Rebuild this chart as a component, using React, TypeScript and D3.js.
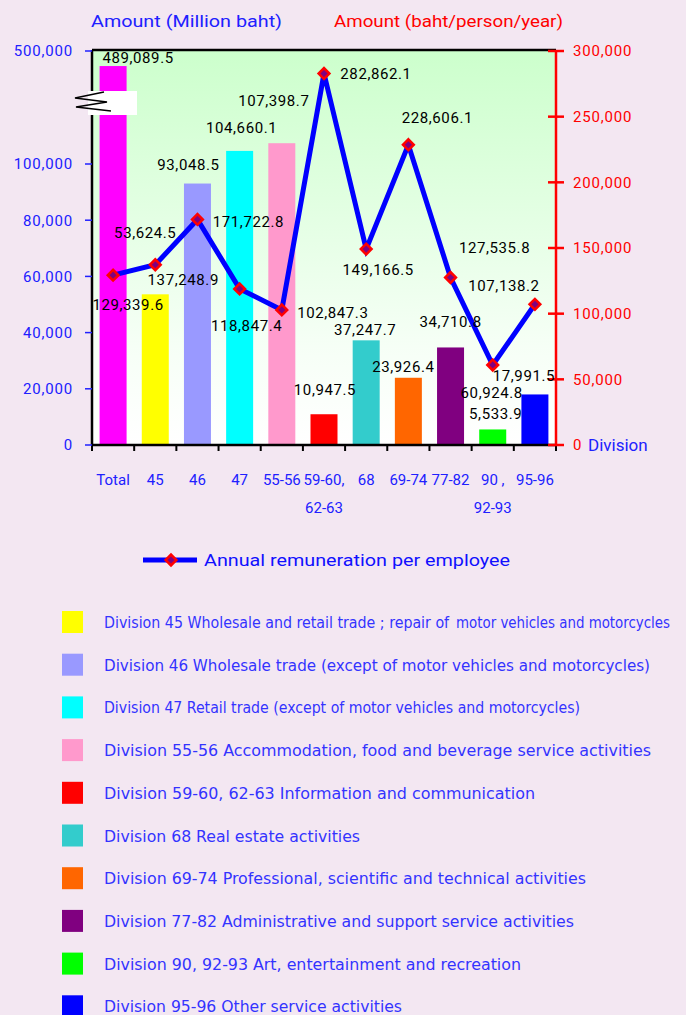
import React from "react";
import * as d3 from "d3";

const categories = ["Total", "45", "46", "47", "55-56", "59-60, 62-63", "68", "69-74", "77-82", "90, 92-93", "95-96"];
const xLabelLine1 = ["Total", "45", "46", "47", "55-56", "59-60,", "68", "69-74", "77-82", "90 ,", "95-96"];
const xLabelLine2 = ["", "", "", "", "", "62-63", "", "", "", "92-93", ""];
const amounts = [489089.5, 53624.5, 93048.5, 104660.1, 107398.7, 10947.5, 37247.7, 23926.4, 34710.8, 5533.9, 17991.5];
const remuneration = [129339.6, 137248.9, 171722.8, 118847.4, 102847.3, 282862.1, 149166.5, 228606.1, 127535.8, 60924.8, 107138.2];
const barColors = ["#FF00FF", "#FFFF00", "#9999FF", "#00FFFF", "#FF99CC", "#FF0000", "#33CCCC", "#FF6600", "#800080", "#00FF00", "#0000FF"];
const leftTicks = [0, 20000, 40000, 60000, 80000, 100000, 500000];
const rightTicks = [0, 50000, 100000, 150000, 200000, 250000, 300000];
const legendLabels = [
  "Division 45 Wholesale and retail trade ; repair of motor vehicles and  motorcycles",
  "Division 46 Wholesale trade (except of motor vehicles and motorcycles)",
  "Division 47 Retail trade (except of motor vehicles and motorcycles)",
  "Division 55-56 Accommodation, food and beverage service activities",
  "Division 59-60, 62-63 Information and communication",
  "Division 68 Real estate activities",
  "Division 69-74 Professional, scientific and technical activities",
  "Division 77-82 Administrative and support service activities",
  "Division 90, 92-93 Art, entertainment and recreation",
  "Division 95-96 Other service activities",
];
const legendWidths = [566, 546, 476, 547, 431, 256, 482, 470, 417, 298];
// label offsets relative to bar top / line point (layout)
const barLabelOffsets = [[25, -3], [-10, -56], [-9, -14], [2, -18], [-8, -37], [1, -19], [-1, -5], [-5, -6], [0, -20], [3, -10], [-11, -13]];
const lineLabelOffsets = [[15, 35], [28, 20], [51, 7.5], [7, 42], [51, 8], [52, 5.5], [12, 26], [29, -22], [44, -24.5], [-1, 33], [-31, -13]];

const W = 686, H = 1015;
const L = 92, R = 556, T = 50, B = 445;
const fmt = d3.format(",.1f");
const fmtTick = d3.format(",");
const FONT = "Roboto, 'Noto Sans', sans-serif";
const NARROW = "'Liberation Sans Narrow', 'DejaVu Sans Condensed', Roboto, sans-serif";
const AXIS_BLUE = "#2020FF";
const LEG_BLUE = "#3333FF";

// split a long legend label into two runs at a word boundary near its middle
function splitRuns(label: string, width: number): { text: string; offset: number; len: number }[] {
  if (width < 555) return [{ text: label, offset: 0, len: width }];
  const mid = Math.floor(label.length * 0.6);
  const cut = label.indexOf(" ", mid);
  const a = label.slice(0, cut);
  const b = label.slice(cut + 1);
  const perChar = width / label.length;
  return [
    { text: a, offset: 0, len: a.length * perChar },
    { text: b, offset: (cut + 1) * perChar, len: width - (cut + 1) * perChar },
  ];
}

export default function App() {
  const x = d3.scaleBand<string>().domain(categories).range([L, R]).padding(0);
  const bw = x.bandwidth();
  const barW = bw * 0.64;
  const lowerPx = (B - 164) / 100000;
  const yL = d3.scaleLinear().domain([0, 112000, 450000, 500000]).range([B, B - 112000 * lowerPx, 120, 51]);
  const yR = d3.scaleLinear().domain([0, 300000]).range([B, T + 1]);
  const cx = (c: string) => (x(c) as number) + bw / 2;
  const line = d3.line<number>().x((_, i) => cx(categories[i])).y((d) => yR(d));
  const diamond = d3.symbol().type(d3.symbolSquare).size(58)();
  const boundaries = categories.map((c) => x(c) as number).concat([R]);

  return (
    <svg width={W} height={H} style={{ position: "absolute", left: 0, top: 0 }} fontFamily={FONT}>
      <defs>
        <linearGradient id="plotbg" x1="0" y1="0" x2="0" y2="1">
          <stop offset="0" stopColor="#CCFFCC" />
          <stop offset="0.75" stopColor="#F6FFF6" />
          <stop offset="1" stopColor="#FFFFFF" />
        </linearGradient>
      </defs>
      <rect x={0} y={0} width={W} height={H} fill="#F3E7F2" />
      <rect x={L} y={T} width={R - L} height={B - T} fill="url(#plotbg)" />

      {/* axis titles */}
      <text x={91} y={27} fill={AXIS_BLUE} fontSize={17} textLength={191} lengthAdjust="spacingAndGlyphs">Amount (Million baht)</text>
      <text x={334} y={27} fill="#FF0000" fontSize={17} textLength={229} lengthAdjust="spacingAndGlyphs">Amount (baht/person/year)</text>

      {/* bars */}
      {categories.map((c, i) => (
        <rect key={c} x={cx(c) - barW / 2} y={yL(amounts[i])} width={barW} height={B - yL(amounts[i])} fill={barColors[i]} />
      ))}

      {/* axis break */}
      <rect x={88} y={91} width={49} height={24} fill="#FFFFFF" />
      <polyline points="104,92 75,98 107,102 76,107 111,111" fill="none" stroke="#000" strokeWidth={1.6} />

      {/* frame / axes */}
      <line x1={L} y1={T} x2={R} y2={T} stroke="#000" strokeWidth={2.5} />
      <line x1={L} y1={T} x2={L} y2={91} stroke="#000" strokeWidth={2.5} />
      <line x1={L} y1={115} x2={L} y2={B} stroke="#000" strokeWidth={2.5} />
      <line x1={L} y1={B} x2={R} y2={B} stroke="#000" strokeWidth={2.5} />
      {boundaries.map((bx, i) => (
        <line key={"bt" + i} x1={bx} y1={B} x2={bx} y2={B + 6} stroke="#000" strokeWidth={2} />
      ))}
      {leftTicks.map((t) => (
        <g key={"lt" + t}>
          <line x1={L - 7} y1={yL(t)} x2={L} y2={yL(t)} stroke={AXIS_BLUE} strokeWidth={1.5} />
          <text x={73} y={yL(t)} dy="0.36em" textAnchor="end" fill={AXIS_BLUE} fontSize={15} letterSpacing={0.8}>{fmtTick(t)}</text>
        </g>
      ))}
      <line x1={R} y1={T} x2={R} y2={B} stroke="#FF0000" strokeWidth={2.5} />
      {rightTicks.map((t) => (
        <g key={"rt" + t}>
          <line x1={R - 8} y1={yR(t)} x2={R + 8} y2={yR(t)} stroke="#FF0000" strokeWidth={2.5} />
          <text x={573} y={yR(t)} dy="0.36em" fill="#FF0000" fontSize={15} letterSpacing={0.8}>{fmtTick(t)}</text>
        </g>
      ))}
      <text x={588} y={B} dy="0.36em" fill={AXIS_BLUE} fontSize={17}>Division</text>

      {/* x labels */}
      {categories.map((c, i) => (
        <g key={"xl" + c}>
          <text x={cx(c)} y={485} textAnchor="middle" fill={AXIS_BLUE} fontSize={15}>{xLabelLine1[i]}</text>
          {xLabelLine2[i] && (
            <text x={cx(c)} y={513} textAnchor="middle" fill={AXIS_BLUE} fontSize={15}>{xLabelLine2[i]}</text>
          )}
        </g>
      ))}

      {/* line */}
      <path d={line(remuneration) as string} fill="none" stroke="#0000FF" strokeWidth={5} strokeLinejoin="miter" />
      {remuneration.map((v, i) => (
        <path key={"m" + i} d={diamond as string} transform={`translate(${cx(categories[i])},${yR(v)}) rotate(45)`} fill="#800080" stroke="#FF0000" strokeWidth={2.5} />
      ))}

      {/* data labels */}
      {amounts.map((v, i) => (
        <text key={"bl" + i} x={cx(categories[i]) + barLabelOffsets[i][0]} y={yL(v) + barLabelOffsets[i][1]} textAnchor="middle" fill="#000" fontSize={15} letterSpacing={0.6}>{fmt(v)}</text>
      ))}
      {remuneration.map((v, i) => (
        <text key={"ll" + i} x={cx(categories[i]) + lineLabelOffsets[i][0]} y={yR(v) + lineLabelOffsets[i][1]} textAnchor="middle" fill="#000" fontSize={15} letterSpacing={0.6}>{fmt(v)}</text>
      ))}

      {/* line legend */}
      <line x1={143} y1={560} x2={197} y2={560} stroke="#0000FF" strokeWidth={5} />
      <path d={diamond as string} transform="translate(171,560) rotate(45)" fill="#800080" stroke="#FF0000" strokeWidth={2.5} />
      <text x={204} y={566} fill="#1010FF" fontSize={16} textLength={306} lengthAdjust="spacingAndGlyphs">Annual remuneration per employee</text>

      {/* division legend */}
      {legendLabels.map((lab, i) => {
        const cy = 622 + i * 42.7;
        return (
          <g key={"lg" + i}>
            <rect x={62} y={cy - 11} width={21} height={22} fill={barColors[i + 1]} />
            {splitRuns(lab, legendWidths[i]).map((r, j) => (
              <text key={j} x={104 + r.offset} y={cy + 6} fill={LEG_BLUE} fontSize={16} fontFamily={NARROW} textLength={r.len} lengthAdjust="spacingAndGlyphs">{r.text}</text>
            ))}
          </g>
        );
      })}
    </svg>
  );
}
